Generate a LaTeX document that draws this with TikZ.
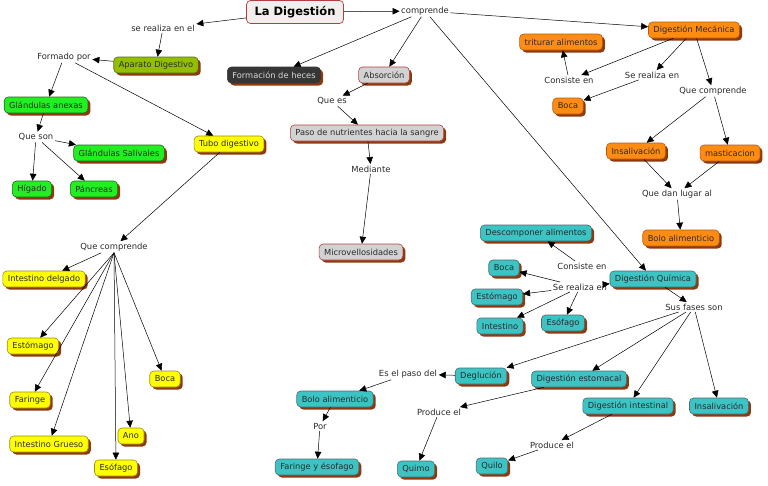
\documentclass[tikz,border=0pt]{standalone}
\usepackage{fontspec}
\setmainfont{DejaVu Sans}
\usetikzlibrary{arrows.meta,shadows}
\definecolor{txt}{HTML}{2A2A2A}
\definecolor{shad}{HTML}{8E3A10}
\definecolor{yel}{HTML}{FFFF00}
\definecolor{yelb}{HTML}{9A8A20}
\definecolor{teal}{HTML}{3CC4C4}
\definecolor{tealb}{HTML}{4F6A6A}
\definecolor{ora}{HTML}{FF8C12}
\definecolor{orab}{HTML}{B85A10}
\definecolor{grn}{HTML}{22EE22}
\definecolor{grnb}{HTML}{1E6A1E}
\definecolor{oli}{HTML}{92C000}
\definecolor{olib}{HTML}{5A6A10}
\definecolor{gry}{HTML}{D2D2D2}
\definecolor{gryb}{HTML}{B04040}
\definecolor{drk}{HTML}{363636}
\definecolor{titf}{HTML}{F3EEEE}
\tikzset{
  concept/.style={rounded corners=4pt, draw, line width=0.6pt, inner xsep=5pt, inner ysep=0pt,
    minimum height=16pt, font=\fontsize{8.3}{10}\selectfont, text=txt,
    drop shadow={shadow xshift=2.5pt, shadow yshift=-2.5pt, fill=shad, opacity=1}},
  cy/.style={concept, fill=yel, draw=yelb},
  ct/.style={concept, fill=teal, draw=tealb},
  co/.style={concept, fill=ora, draw=orab},
  cg/.style={concept, fill=grn, draw=grnb},
  cl/.style={concept, fill=oli, draw=olib},
  cgr/.style={concept, fill=gry, draw=gryb},
  cd/.style={concept, fill=drk, draw=drk, text=white!85!black},
  link/.style={font=\fontsize{8.4}{10}\selectfont, text=txt, inner sep=1.5pt},
  arr/.style={-{Triangle[length=7pt,width=6.5pt]}, line width=0.5pt, black}
}
\begin{document}
\begin{tikzpicture}[x=1pt,y=-1pt]
\useasboundingbox[fill=white] (0,0) rectangle (768,485);
% concepts
\node[rounded corners=4pt, draw=gryb, line width=0.7pt, fill=titf, minimum width=97pt, minimum height=23pt, font=\fontsize{11.5}{13}\selectfont\bfseries, text=black] (dig) at (295,12) {La Digestión};
\node[cl] (apd) at (156,65) {Aparato Digestivo};
\node[cg] (gla) at (46,105) {Glándulas anexas};
\node[cg] (gsal) at (119,153) {Glándulas Salivales};
\node[cg] (hig) at (32,189) {Hígado};
\node[cg] (pan) at (94,189) {Páncreas};
\node[cy] (tubo) at (229,144) {Tubo digestivo};
\node[cy] (idel) at (44,279) {Intestino delgado};
\node[cy] (est) at (33,346) {Estómago};
\node[cy] (far) at (30,400) {Faringe};
\node[cy] (igr) at (49,444) {Intestino Grueso};
\node[cy] (eso) at (116,468) {Esófago};
\node[cy] (ano) at (131,436) {Ano};
\node[cy] (boca) at (165,379) {Boca};
\node[cd] (heces) at (274,75) {Formación de heces};
\node[cgr] (abs) at (384,75) {Absorción};
\node[cgr] (paso) at (367,133) {Paso de nutrientes hacia la sangre};
\node[cgr] (micro) at (361,252) {Microvellosidades};
\node[co] (dm) at (694,30) {Digestión Mecánica};
\node[co] (trit) at (561,42) {triturar alimentos};
\node[co] (bocam) at (568,106) {Boca};
\node[co] (insm) at (636,151) {Insalivación};
\node[co] (mast) at (730,153) {masticacion};
\node[co] (bolom) at (681,238) {Bolo alimenticio};
\node[ct] (desc) at (536,233) {Descomponer alimentos};
\node[ct] (dq) at (653,279) {Digestión Química};
\node[ct] (bocaq) at (504,268) {Boca};
\node[ct] (estq) at (497,297) {Estómago};
\node[ct] (intq) at (500,326) {Intestino};
\node[ct] (esoq) at (563,323) {Esófago};
\node[ct] (degl) at (481,376) {Deglución};
\node[ct] (boloq) at (335,399) {Bolo alimenticio};
\node[ct] (faes) at (317,467) {Faringe y ésofago};
\node[ct] (quimo) at (416,469) {Quimo};
\node[ct] (quilo) at (492,466) {Quilo};
\node[ct] (dest) at (579,379) {Digestión estomacal};
\node[ct] (dint) at (628,406) {Digestión intestinal};
\node[ct] (insq) at (719,406) {Insalivación};
% linking phrases
\node[link] (l1) at (163,28) {se realiza en el};
\node[link] (l2) at (64,57) {Formado por};
\node[link] (l3) at (36,137) {Que son};
\node[link] (l4) at (114,247) {Que comprende};
\node[link] (l5) at (425,11) {comprende};
\node[link] (l6) at (332,101) {Que es};
\node[link] (l7) at (371,169) {Mediante};
\node[link] (l8) at (569,80) {Consiste en};
\node[link] (l9) at (652,75) {Se realiza en};
\node[link] (l10) at (713,91) {Que comprende};
\node[link] (l11) at (677,194) {Que dan lugar al};
\node[link] (l12) at (582,266) {Consiste en};
\node[link] (l13) at (580,287) {Se realiza en};
\node[link] (l14) at (694,307) {Sus fases son};
\node[link] (l15) at (408,374) {Es el paso del};
\node[link] (l16) at (320,426) {Por};
\node[link] (l17) at (439,412) {Produce el};
\node[link] (l18) at (552,445) {Produce el};
% connectors
\draw[arr] (dig) -- (l1);
\draw[arr] (l1) -- (apd);
\draw[arr] (apd) -- (l2);
\draw[arr] (l2) -- (gla);
\draw[arr] (l2) -- (tubo);
\draw[arr] (gla) -- (l3);
\draw[arr] (l3) -- (gsal);
\draw[arr] (l3) -- (hig);
\draw[arr] (l3) -- (pan);
\draw[arr] (tubo) -- (l4);
\draw[arr] (l4) -- (idel);
\draw[arr] (l4.south) -- (est);
\draw[arr] (l4.south) -- (far);
\draw[arr] (l4.south) -- (igr);
\draw[arr] (l4.south) -- (eso);
\draw[arr] (l4.south) -- (ano);
\draw[arr] (l4.south) -- (boca);
\draw[arr] (dig) -- (l5);
\draw[arr] (l5) -- (heces);
\draw[arr] (l5) -- (abs);
\draw[arr] (l5) -- (dm);
\draw[arr] (l5) -- (dq);
\draw[arr] (abs) -- (l6);
\draw[arr] (l6) -- (paso);
\draw[arr] (paso) -- (l7);
\draw[arr] (l7) -- (micro);
\draw[arr] (dm) -- (l8);
\draw[arr] (dm) -- (l9);
\draw[arr] (dm) -- (l10);
\draw[arr] (l8) -- (trit);
\draw[arr] (l9) -- (bocam);
\draw[arr] (l10) -- (insm);
\draw[arr] (l10) -- (mast);
\draw[arr] (insm) -- (l11);
\draw[arr] (mast) -- (l11);
\draw[arr] (l11) -- (bolom);
\draw[arr] (l12) -- (desc);
\draw[arr] (l13) -- (dq);
\draw[arr] (l13) -- (bocaq);
\draw[arr] (l13) -- (estq);
\draw[arr] (l13) -- (intq);
\draw[arr] (l13) -- (esoq);
\draw[arr] (dq) -- (l14);
\draw[arr] (l14) -- (degl);
\draw[arr] (l14) -- (dest);
\draw[arr] (l14) -- (dint);
\draw[arr] (l14) -- (insq);
\draw[arr] (degl) -- (l15);
\draw[arr] (l15) -- (boloq);
\draw[arr] (boloq) -- (l16);
\draw[arr] (l16) -- (faes);
\draw[arr] (dest) -- (l17);
\draw[arr] (l17) -- (quimo);
\draw[arr] (dint) -- (l18);
\draw[arr] (l18) -- (quilo);
\end{tikzpicture}
\end{document}
